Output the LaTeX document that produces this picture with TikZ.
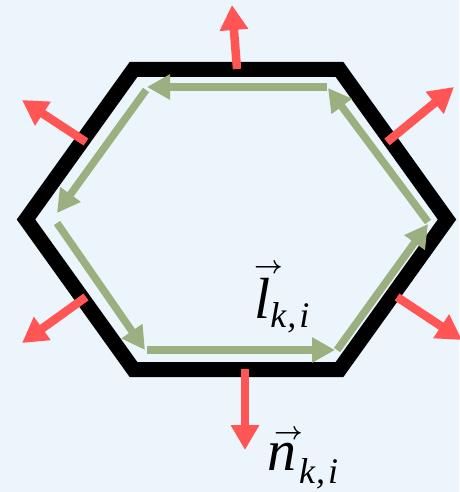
\documentclass[tikz,border=0pt]{standalone}
\usepackage{fontspec}
\setmainfont{Liberation Serif}
\usetikzlibrary{arrows.meta}
\definecolor{bg}{RGB}{237,245,252}
\definecolor{lgreen}{RGB}{155,175,128}
\definecolor{nred}{RGB}{255,85,85}
% vector arrow over a letter: #1 letter, #2 horizontal shift of arrow, #3 raise of arrow
\newcommand{\myvecover}[3]{\leavevmode\rlap{\kern#2\raisebox{#3}{\fontsize{26}{26}\selectfont\upshape\boldmath$\rightarrow$}}#1}
\begin{document}
\begin{tikzpicture}[x=1pt,y=-1pt,
  hexline/.style={draw=black, line width=15pt, line join=miter},
  gedge/.style={draw=lgreen, line width=7.5pt, -{Triangle[length=23pt,width=24pt]}},
  nrm/.style={draw=nred, line width=8.5pt, -{Triangle[length=25pt,width=27pt]}},
  lab/.style={inner sep=0pt, anchor=base west, font=\fontsize{58}{58}\selectfont\itshape}]
\fill[bg] (0,0) rectangle (459,492);
\useasboundingbox (0,0) rectangle (459,492);
% hexagon
\coordinate (h1) at (133.5,69.5);
\coordinate (h2) at (339.5,69.5);
\coordinate (h3) at (447,219.5);
\coordinate (h4) at (339.5,369.5);
\coordinate (h5) at (133.5,369.5);
\coordinate (h6) at (26,219.5);
\draw[hexline] (h1)--(h2)--(h3)--(h4)--(h5)--(h6)--cycle;
% green tangent arrows
\coordinate (g1s) at (327,87);   \coordinate (g1e) at (147,87);
\coordinate (g2s) at (146,90);   \coordinate (g2e) at (57,213);
\coordinate (g3s) at (57,223);   \coordinate (g3e) at (145,350);
\coordinate (g4s) at (147,350);  \coordinate (g4e) at (335,350);
\coordinate (g5s) at (337,350);  \coordinate (g5e) at (428,224);
\coordinate (g6s) at (428,222);  \coordinate (g6e) at (328,88);
\draw[gedge] (g1s) -- (g1e);
\draw[gedge] (g2s) -- (g2e);
\draw[gedge] (g3s) -- (g3e);
\draw[gedge] (g4s) -- (g4e);
\draw[gedge] (g5s) -- (g5e);
\draw[gedge] (g6s) -- (g6e);
% red normals
\coordinate (r1a) at (237,69);  \coordinate (r1b) at (232,5);
\coordinate (r2a) at (86,142);  \coordinate (r2b) at (22,100);
\coordinate (r3a) at (387,142); \coordinate (r3b) at (454,87);
\coordinate (r4a) at (86,297);  \coordinate (r4b) at (22,343);
\coordinate (r5a) at (397,297); \coordinate (r5b) at (462,340);
\coordinate (r6a) at (245,369); \coordinate (r6b) at (245,450);
\draw[nrm] (r1a) -- (r1b);
\draw[nrm] (r2a) -- (r2b);
\draw[nrm] (r3a) -- (r3b);
\draw[nrm] (r4a) -- (r4b);
\draw[nrm] (r5a) -- (r5b);
\draw[nrm] (r6a) -- (r6b);
% labels
\node[lab] (lvec) at (254,318) {\myvecover{l}{0pt}{45pt}\raisebox{-9pt}{\fontsize{36}{36}\selectfont k\kern1pt,\kern3pt i}};
\node[lab] (nvec) at (267,470) {\myvecover{n}{7pt}{31pt}\kern3pt\raisebox{-13pt}{\fontsize{36}{36}\selectfont k\kern1pt,\kern3pt i}};
\end{tikzpicture}
\end{document}
